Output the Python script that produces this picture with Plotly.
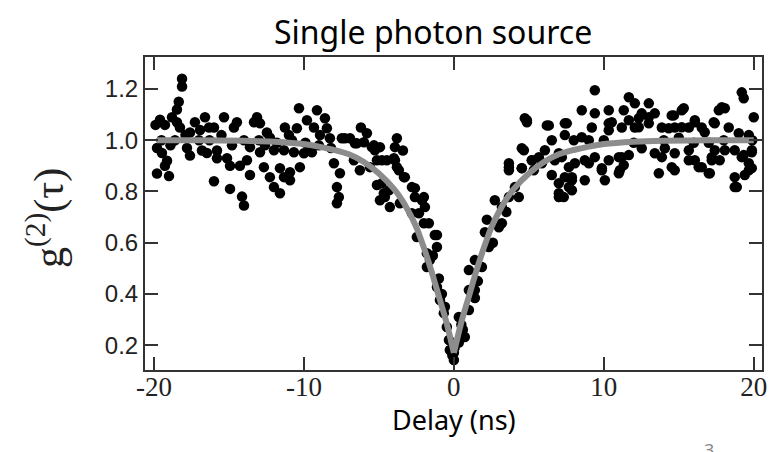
import plotly.graph_objects as go

# ---------------- data ----------------
delay_ns = [
    -18.13, -18.13, -18.35, -18.47, -19.6, -19.27, -18.8, -18.47,
    -18.27, -17.27, -16.6, -16.0, -15.33, -14.47, -17.6, -16.93,
    -16.33, -19.8, -19.47, -19.13, -19.27, -19.8, -19.0, -17.8,
    -17.6, -16.8, -16.47, -15.8, -15.8, -15.13, -14.93, -14.27,
    -16.0, -14.93, -14.13, -14.0, -14.0, -14.67, -19.9, -19.5,
    -18.9, -18.6, -17.9, -17.0, -16.3, -15.5, -14.8,
    -10.33, -9.13, -13.13, -13.33, -12.93, -11.27, -9.8, -8.6,
    -10.47, -9.33, -8.47, -12.47, -12.27, -8.93, -8.27, -7.47,
    -13.6, -12.93, -12.0, -11.33, -10.67, -10.0, -9.47, -13.8,
    -12.67, -11.6, -10.93, -10.27, -13.6, -12.27, -11.33, -10.93,
    -12.0, -11.6, -8.0, -7.6, -7.8, -7.67, -7.8, -13.0,
    -11.8, -10.8, -9.9, -9.0, -8.2, -11.0, -12.6, -9.6,
    -7.27, -6.6, -5.8, -5.47, -5.27, -4.8, -3.8, -3.93,
    -4.8, -4.33, -4.6, -3.93, -3.67, -3.27, -2.8, -2.6,
    -2.13, -1.93, -2.33, -1.67, -1.27, -1.13, -6.93, -6.47,
    -6.0, -5.33, -4.93, -6.67, -6.27, -5.6, -5.13, -4.47,
    -4.0, -3.8, -3.33, -5.13, -4.67, -4.93, -4.27, -3.6,
    -2.6, -2.0, -2.8, -2.0, -2.47, -1.13, -1.8, -1.8,
    -1.6, -1.13, -0.93, -0.67, -0.47, -0.33, -0.27, 0.0,
    -0.1, 0.05, -0.6, -0.8, -1.0, -1.4, -6.2, -3.4,
    0.0, 0.33, 0.73, 0.33, 1.0, 1.0, 1.4, 1.4,
    1.0, 1.4, 1.87, 2.33, 2.07, 3.0, 3.2, 2.73,
    3.2, 3.67, 4.33, 4.07, 3.67, 4.53, 4.67, 4.87,
    5.2, 5.67, 6.07, 6.33, 6.53, 7.0, 7.0, 0.6,
    0.5, 1.6, 2.6, 2.2, 3.5, 4.73, 4.87, 6.2,
    4.53, 5.2, 3.67, 3.67, 4.53, 5.33, 5.87, 6.73,
    6.53, 7.0, 7.0, 7.67, 7.87, 8.73, 9.0, 9.87,
    10.07, 11.0, 11.2, 11.33, 9.4, 7.4, 7.4, 8.53,
    9.4, 10.33, 11.33, 11.67, 12.07, 13.0, 12.53, 13.4,
    14.53, 15.2, 16.07, 17.67, 18.07, 19.2, 19.33, 20.0,
    9.2, 10.33, 11.2, 12.07, 13.0, 13.87, 14.73, 15.67,
    16.53, 17.4, 18.33, 12.53, 13.4, 13.67, 13.87, 14.53,
    14.73, 15.67, 16.07, 16.53, 17.0, 17.2, 17.4, 18.07,
    18.73, 19.2, 19.67, 18.73, 18.73, 19.87, 19.67, 19.4,
    7.53, 8.53, 10.53, 11.67, 12.33, 13.0, 10.33, 12.33,
    7.2, 7.67, 8.07, 8.73, 9.4, 10.33, 11.0, 11.67,
    7.4, 7.87, 9.87, 11.07, 7.87, 7.33, 17.87, 17.33,
    15.33, 14.67, 16.07, 15.2, 14.33, 16.73, 19.0, 19.67,
    19.33, 19.87, 14.73, 16.33, 17.07, 19.87, 18.87, 14.07,
    15.67, 17.2, 17.73, 8.0, 9.0, 10.0, 12.0, 14.0,
    16.0, 18.0, 19.9, 15.0, 17.0,
]
g2_measured = [
    1.24, 1.21, 1.15, 1.12, 1.08, 1.06, 1.09, 1.07,
    1.05, 1.07, 1.09, 1.05, 1.09, 1.07, 1.03, 1.04,
    1.05, 0.97, 0.95, 0.92, 0.90, 0.87, 0.86, 0.97,
    0.94, 0.96, 0.95, 0.96, 0.93, 0.93, 0.90, 0.90,
    0.84, 0.81, 0.78, 0.745, 1.00, 1.05, 1.06, 1.00,
    0.98, 1.00, 1.02, 1.00, 1.00, 1.02, 0.98,
    1.125, 1.117, 1.09, 1.07, 1.066, 1.05, 1.078, 1.086,
    1.047, 1.05, 1.047, 1.03, 1.01, 1.02, 1.008, 1.008,
    0.973, 0.953, 0.961, 0.961, 0.953, 0.949, 0.953, 0.922,
    0.895, 0.891, 0.875, 0.895, 0.864, 0.856, 0.856, 0.844,
    0.817, 0.793, 0.91, 0.871, 0.817, 0.778, 0.754, 1.0,
    0.99, 1.0, 0.99, 0.98, 0.97, 1.02, 0.98, 0.97,
    1.008, 0.988, 1.027, 0.973, 0.961, 0.922, 1.008, 0.973,
    0.832, 0.805, 0.778, 0.922, 0.883, 0.856, 0.817, 0.778,
    0.766, 0.739, 0.715, 0.676, 0.63, 0.583, 1.008, 0.988,
    0.992, 0.98, 0.973, 0.922, 0.883, 0.895, 0.922, 0.922,
    0.93, 0.895, 0.856, 0.825, 0.793, 0.766, 0.739, 0.754,
    0.813, 0.778, 0.715, 0.676, 0.622, 0.63, 0.559, 0.505,
    0.532, 0.427, 0.376, 0.325, 0.271, 0.22, 0.181, 0.142,
    0.16, 0.19, 0.35, 0.40, 0.46, 0.55, 1.05, 0.96,
    0.17, 0.21, 0.232, 0.31, 0.337, 0.415, 0.415, 0.384,
    0.493, 0.532, 0.505, 0.583, 0.641, 0.66, 0.676, 0.766,
    0.739, 0.778, 0.778, 0.817, 0.895, 0.891, 0.961, 1.078,
    0.922, 0.934, 0.961, 1.058, 1.0, 0.949, 0.793, 0.26,
    0.28, 0.45, 0.60, 0.69, 0.72, 1.086, 1.07, 1.058,
    0.969, 0.922, 0.91, 0.883, 0.891, 0.883, 0.91, 0.922,
    0.864, 0.832, 0.778, 0.817, 0.856, 0.844, 0.91, 0.891,
    0.844, 0.871, 0.934, 0.903, 1.195, 1.066, 1.02, 1.117,
    1.105, 1.117, 1.117, 1.168, 1.144, 1.144, 1.105, 1.105,
    1.097, 1.117, 1.078, 1.117, 1.125, 1.187, 1.164, 1.09,
    1.05, 1.066, 1.05, 1.05, 1.066, 1.05, 1.05, 1.05,
    1.05, 1.066, 1.05, 0.969, 0.949, 0.871, 0.934, 0.895,
    0.949, 0.961, 0.922, 0.895, 0.871, 0.934, 0.961, 0.961,
    0.961, 0.934, 0.91, 0.856, 0.817, 0.961, 0.883, 0.864,
    1.066, 1.012, 1.07, 1.078, 1.086, 1.09, 1.039, 1.051,
    0.934, 0.895, 0.91, 0.922, 0.934, 0.922, 0.934, 0.942,
    0.856, 0.844, 0.883, 0.883, 0.805, 0.778, 1.129, 1.07,
    1.125, 1.097, 1.07, 1.051, 1.047, 1.031, 1.027, 1.02,
    0.942, 0.953, 0.883, 0.895, 0.871, 0.891, 0.817, 0.969,
    0.922, 0.922, 0.922, 1.0, 1.0, 1.0, 0.99, 1.0,
    0.99, 1.0, 1.0, 1.01, 0.99,
]
assert len(delay_ns) == len(g2_measured)

fit_delay = [-19.8, -17, -14, -12, -10, -9, -8, -7, -6, -5,
             -4, -3.5, -3, -2.5, -2, -1.5, -1, -0.5, 0,
             0.5, 1, 1.5, 2, 2.5, 3, 3.5, 4,
             5, 6, 7, 8, 9, 10, 12, 14, 17, 20]
fit_g2 = [1.0, 1.0, 0.998, 0.994, 0.985, 0.975, 0.962, 0.945, 0.915, 0.87,
          0.81, 0.77, 0.72, 0.66, 0.58, 0.49, 0.39, 0.29, 0.17,
          0.29, 0.39, 0.49, 0.58, 0.66, 0.72, 0.77, 0.81,
          0.87, 0.915, 0.945, 0.962, 0.975, 0.985, 0.994, 0.998, 1.0, 1.0]

x_ticks = [-20, -10, 0, 10, 20]
y_ticks = [0.2, 0.4, 0.6, 0.8, 1.0, 1.2]

title_text = "Single photon source"
x_title = "Delay (ns)"
y_title = "g<sup>(2)</sup>(τ)"
page_number = "3"

# ---------------- figure ----------------
# the page body has an 8px margin, so the figure is placed 8px in from the corner
OFF = 8
W, H = 783 - OFF, 452 - OFF
ML, MR, MT, MB = 145 - OFF, 21, 57 - OFF, 82

fig = go.Figure()
fig.add_trace(go.Scatter(
    x=delay_ns, y=g2_measured, mode="markers",
    marker=dict(color="black", size=10.5, line=dict(width=0)),
    showlegend=False, hoverinfo="skip"))

i0 = fit_delay.index(0)
for xs, ys in ((fit_delay[:i0 + 1], fit_g2[:i0 + 1]),
               (fit_delay[i0:], fit_g2[i0:])):
    fig.add_trace(go.Scatter(
        x=xs, y=ys, mode="lines",
        line=dict(color="#8c8c8c", width=6, shape="spline", smoothing=0.8),
        showlegend=False, hoverinfo="skip"))

axis_common = dict(
    showgrid=False, zeroline=False, showline=True, linecolor="#333333",
    linewidth=2, mirror="ticks", ticks="inside", ticklen=13, tickwidth=1.5,
    tickcolor="#333333")

fig.update_xaxes(range=[-20.6, 20.55], tickvals=x_ticks,
                 ticktext=[str(v) for v in x_ticks],
                 ticklabelstandoff=-8,
                 tickfont=dict(family="Liberation Serif", size=27, color="#222"),
                 **axis_common)
fig.update_yaxes(range=[0.103, 1.325], tickvals=y_ticks,
                 ticktext=[f"{v:.1f}" for v in y_ticks],
                 tickfont=dict(family="Liberation Sans", size=24, color="#222"),
                 **axis_common)

pw, ph = W - ML - MR, H - MT - MB

def px_to_paper(px, py):
    """page pixel -> paper coords"""
    return (px - OFF - ML) / pw, (H - MB - (py - OFF)) / ph

annos = []
tx, ty = px_to_paper(433, 31)
annos.append(dict(x=tx, y=ty, xref="paper", yref="paper", text=title_text,
                  showarrow=False, xanchor="center", yanchor="middle",
                  font=dict(family="Noto Sans", size=32, color="black")))
ax_, ay_ = px_to_paper(454, 419)
annos.append(dict(x=ax_, y=ay_, xref="paper", yref="paper", text=x_title,
                  showarrow=False, xanchor="center", yanchor="middle",
                  font=dict(family="Noto Sans", size=27, color="black")))
yx, yy = px_to_paper(46, 218)
annos.append(dict(x=yx, y=yy, xref="paper", yref="paper", text=y_title,
                  showarrow=False, xanchor="center", yanchor="middle",
                  textangle=-90,
                  font=dict(family="Liberation Serif", size=42, color="#222")))
nx, ny = px_to_paper(709, 436)
annos.append(dict(x=nx, y=ny, xref="paper", yref="paper", text=page_number,
                  showarrow=False, xanchor="center", yanchor="top",
                  font=dict(family="Noto Sans", size=18, color="#8a8a8a")))

fig.update_layout(
    width=W, height=H, autosize=False,
    margin=dict(l=ML, r=MR, t=MT, b=MB, pad=0),
    paper_bgcolor="white", plot_bgcolor="white",
    annotations=annos, showlegend=False)

fig.write_html("out.html")
